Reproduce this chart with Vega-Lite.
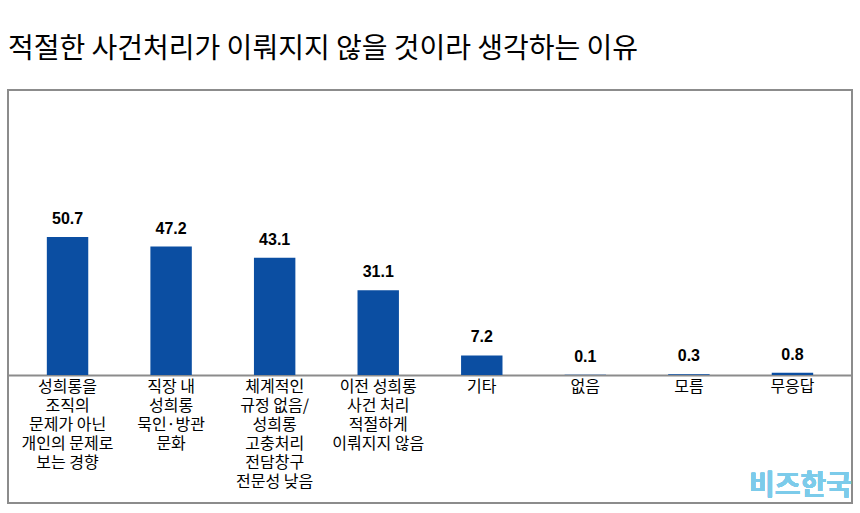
{
  "$schema": "https://vega.github.io/schema/vega-lite/v6.json",
  "width": 844,
  "height": 413,
  "autosize": {"type": "none"},
  "padding": {"left": 8, "top": 90, "right": 8, "bottom": 10},
  "background": "white",
  "title": {
    "text": "적절한 사건처리가 이뤄지지 않을 것이라 생각하는 이유",
    "anchor": "start",
    "font": "Noto Sans CJK KR",
    "fontSize": 28,
    "fontWeight": "normal",
    "color": "#000000",
    "offset": 26
  },
  "config": {
    "view": {"stroke": "#8c8c8c", "strokeWidth": 2}
  },
  "data": {
    "values": [
      {"category": "성희롱을|조직의|문제가 아닌|개인의 문제로|보는 경향", "value": 50.7},
      {"category": "직장 내|성희롱|묵인·방관|문화", "value": 47.2},
      {"category": "체계적인|규정 없음/|성희롱|고충처리|전담창구|전문성 낮음", "value": 43.1},
      {"category": "이전 성희롱|사건 처리|적절하게|이뤄지지 않음", "value": 31.1},
      {"category": "기타", "value": 7.2},
      {"category": "없음", "value": 0.1},
      {"category": "모름", "value": 0.3},
      {"category": "무응답", "value": 0.8}
    ]
  },
  "encoding": {
    "x": {
      "field": "category",
      "type": "nominal",
      "sort": null,
      "scale": {"paddingInner": 0.6, "paddingOuter": 0.375},
      "axis": {
        "title": null,
        "orient": "bottom",
        "offset": -128,
        "labelExpr": "split(datum.label, '|')",
        "labelAngle": 0,
        "labelFont": "Noto Sans CJK KR",
        "labelFontSize": 16,
        "labelColor": "#000000",
        "labelLineHeight": 19,
        "labelPadding": 3,
        "labelBaseline": "top",
        "labelLimit": 0,
        "labelOverlap": false,
        "labelFlush": false,
        "ticks": false,
        "domainColor": "#8c8c8c",
        "domainWidth": 2
      }
    },
    "y": {
      "field": "value",
      "type": "quantitative",
      "scale": {"domain": [-47.0, 104.7], "nice": false, "zero": false},
      "axis": null
    }
  },
  "layer": [
    {
      "mark": {"type": "bar", "color": "#0B4EA2"},
      "encoding": {"y2": {"datum": 0}}
    },
    {
      "mark": {
        "type": "text",
        "dy": -13,
        "baseline": "alphabetic",
        "font": "Liberation Sans",
        "fontSize": 16,
        "fontWeight": "bold",
        "color": "#000000"
      },
      "encoding": {"text": {"field": "value", "type": "quantitative", "format": ".1f"}}
    },
    {
      "mark": {
        "type": "text",
        "text": "비즈한국",
        "font": "Noto Sans CJK KR",
        "fontSize": 28,
        "fontWeight": "bold",
        "color": "#7ccbea",
        "baseline": "alphabetic",
        "dx": 8
      },
      "encoding": {
        "x": {"datum": "무응답", "type": "nominal"},
        "y": {"datum": -44}
      }
    }
  ]
}
